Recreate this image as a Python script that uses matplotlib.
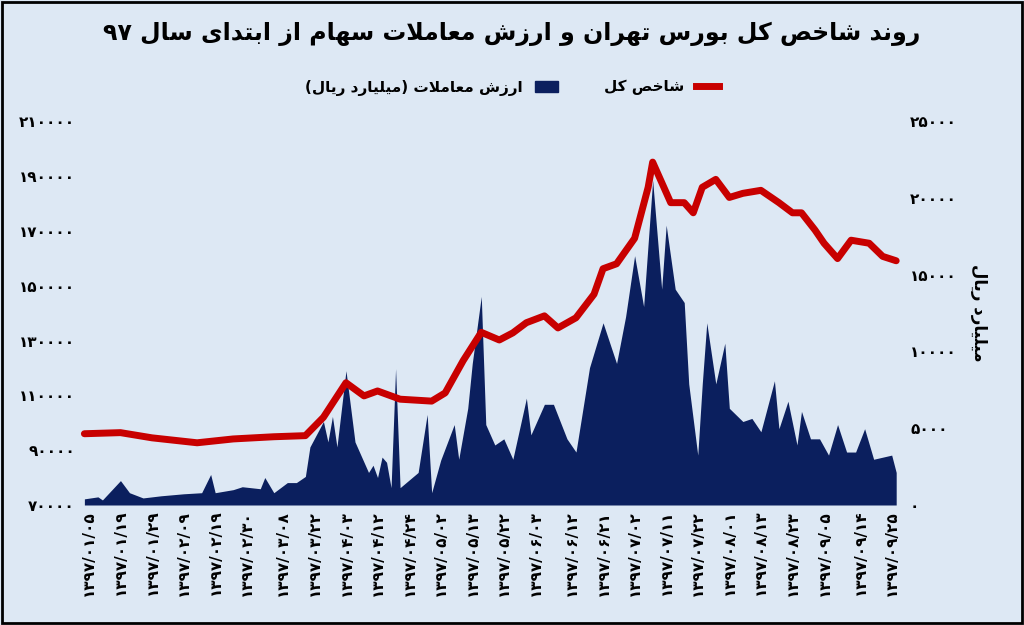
import re
import numpy as np
from matplotlib import pyplot as plt
from matplotlib.patches import Patch
from matplotlib.lines import Line2D

# ---- minimal Persian shaping (presentation forms + visual order) ----
FORMS = {
    'ا': (0xFE8D, 0xFE8E), 'د': (0xFEA9, 0xFEAA), 'ر': (0xFEAD, 0xFEAE),
    'ز': (0xFEAF, 0xFEB0), 'و': (0xFEED, 0xFEEE),
    'ب': (0xFE8F, 0xFE90, 0xFE91, 0xFE92), 'ت': (0xFE95, 0xFE96, 0xFE97, 0xFE98),
    'خ': (0xFEA5, 0xFEA6, 0xFEA7, 0xFEA8), 'س': (0xFEB1, 0xFEB2, 0xFEB3, 0xFEB4),
    'ش': (0xFEB5, 0xFEB6, 0xFEB7, 0xFEB8), 'ص': (0xFEB9, 0xFEBA, 0xFEBB, 0xFEBC),
    'ع': (0xFEC9, 0xFECA, 0xFECB, 0xFECC), 'ل': (0xFEDD, 0xFEDE, 0xFEDF, 0xFEE0),
    'م': (0xFEE1, 0xFEE2, 0xFEE3, 0xFEE4), 'ن': (0xFEE5, 0xFEE6, 0xFEE7, 0xFEE8),
    'ه': (0xFEE9, 0xFEEA, 0xFEEB, 0xFEEC), 'ی': (0xFEEF, 0xFEF0, 0xFEF3, 0xFEF4),
    'ک': (0xFED9, 0xFEDA, 0xFEDB, 0xFEDC),
}


def fa(text):
    chars = list(text)
    out = []
    i = 0
    while i < len(chars):
        c = chars[i]
        if c not in FORMS:
            out.append(c)
            i += 1
            continue
        prev = chars[i - 1] if i > 0 else ''
        joins_prev = prev in FORMS and len(FORMS[prev]) == 4
        if c == 'ل' and i + 1 < len(chars) and chars[i + 1] == 'ا':
            out.append(chr(0xFEFC if joins_prev else 0xFEFB))
            i += 2
            continue
        nxt = chars[i + 1] if i + 1 < len(chars) else ''
        f = FORMS[c]
        joins_next = len(f) == 4 and nxt in FORMS
        if joins_prev and joins_next:
            out.append(chr(f[3]))
        elif joins_prev:
            out.append(chr(f[1]))
        elif joins_next:
            out.append(chr(f[2]))
        else:
            out.append(chr(f[0]))
        i += 1
    s = ''.join(out)[::-1]
    s = re.sub(r'[۰-۹0-9/]+', lambda m: m.group(0)[::-1], s)
    return s.translate(str.maketrans('()', ')('))


def pdig(n):
    return str(n).translate(str.maketrans('0123456789', '۰۱۲۳۴۵۶۷۸۹'))


# ---- data ----
title = 'روند شاخص کل بورس تهران و ارزش معاملات سهام از ابتدای سال ۹۷'
lbl_index = 'شاخص کل'
lbl_value = 'ارزش معاملات (میلیارد ریال)'
right_label = 'میلیارد ریال'

index_day = [0, 8, 15, 25, 33, 42, 49, 53, 58, 62, 65, 70, 77, 80, 84, 88, 92, 95, 98,
             102, 105, 109, 113, 115, 118, 122, 125, 126, 128, 130, 133, 135, 137, 140,
             143, 146, 150, 154, 157, 159, 162, 164, 167, 170, 174, 177, 180]
index_val = [96000, 96400, 94500, 92700, 94100, 94900, 95300, 102000, 114600, 109800,
             111600, 108600, 107900, 110900, 122700, 133000, 130200, 132800, 136500,
             139000, 134600, 138300, 146900, 156200, 158000, 167300, 185900, 195100,
             187700, 180300, 180300, 176600, 185900, 188800, 182200, 183700, 184800,
             180300, 176600, 176600, 170300, 165500, 159900, 166600, 165500, 160700, 159100]

value_day = [0, 3, 4, 8, 10, 13, 17, 22, 26, 28, 29, 33, 35, 39, 40, 42, 45, 47, 49, 50,
             53, 54, 55, 56, 58, 60, 63, 64, 65, 66, 67, 68, 69, 70, 74, 76, 77, 79, 82,
             83, 85, 86, 88, 89, 91, 93, 95, 98, 99, 102, 104, 107, 109, 112, 115, 118,
             120, 122, 124, 126, 128, 129, 131, 133, 134, 136, 137, 138, 140, 142, 143,
             146, 148, 150, 153, 154, 156, 158, 159, 161, 163, 165, 167, 169, 171, 173,
             175, 179, 180]
value_val = [400, 530, 330, 1590, 800, 460, 600, 730, 800, 1990, 800, 1000, 1190, 1060,
             1790, 800, 1460, 1460, 1860, 3780, 5440, 4110, 5770, 3780, 8750, 4110, 2120,
             2590, 1790, 3120, 2780, 1130, 8880, 1130, 2120, 5900, 800, 2920, 5240, 2980,
             6300, 9220, 13590, 5240, 3910, 4310, 2980, 6960, 4570, 6560, 6560, 4310, 3450,
             8950, 11870, 9220, 12270, 16240, 12930, 21150, 14060, 18230, 14060, 13190,
             7890, 3250, 7890, 11870, 7890, 10540, 6300, 5440, 5640, 4770, 8090, 4970,
             6760, 3910, 6100, 4310, 4310, 3250, 5240, 3450, 3450, 4970, 2980, 3250, 2120]

tick_day = [1, 8, 15, 22, 29, 36, 44, 51, 58, 65, 72, 79, 86, 93, 100, 108, 115, 122,
            129, 136, 143, 150, 157, 164, 172, 179]
tick_lbl = ['01/05', '01/19', '01/29', '02/09', '02/19', '02/30', '03/08', '03/22',
            '04/03', '04/12', '04/24', '05/02', '05/13', '05/22', '06/03', '06/12',
            '06/21', '07/02', '07/11', '07/22', '08/01', '08/13', '08/23', '09/05',
            '09/14', '09/25']

plt.rcParams['font.family'] = ['DejaVu Sans']
bg = '#dde8f4'
navy = '#0b1f5e'
red = '#c80000'

fig = plt.figure(figsize=(10.24, 6.25), dpi=100, facecolor=bg)
fig.patches.append(plt.Rectangle((0.002, 0.003), 0.996, 0.994, transform=fig.transFigure,
                                 fill=False, edgecolor='black', linewidth=2))
ax1 = fig.add_axes([0.078, 0.192, 0.806, 0.614])
ax1.set_facecolor(bg)
ax2 = ax1.twinx()

ax2.fill_between(value_day, value_val, 0, color=navy, linewidth=0, zorder=1)
ax2.set_ylim(0, 25000)
ax2.set_yticks(range(0, 25001, 5000))
ax2.set_yticklabels([pdig(v) for v in range(0, 25001, 5000)], fontsize=11, fontweight='bold')
ax2.set_ylabel(fa(right_label), rotation=-90, labelpad=22, fontsize=12, fontweight='bold')

ax1.set_zorder(ax2.get_zorder() + 1)
ax1.patch.set_visible(False)
ax2.set_facecolor(bg)
ax1.plot(index_day, index_val, color=red, linewidth=5, solid_capstyle='round', zorder=3)
ax1.set_ylim(70000, 210000)
ax1.set_yticks(range(70000, 210001, 20000))
ax1.set_yticklabels([pdig(v) for v in range(70000, 210001, 20000)], fontsize=11, fontweight='bold')
ax1.set_xlim(-1, 182)
ax1.set_xticks(tick_day)
ax1.set_xticklabels([pdig('1397/' + t) for t in tick_lbl], rotation=90, fontsize=11,
                    fontweight='bold')

for a in (ax1, ax2):
    for s in a.spines.values():
        s.set_visible(False)
    a.tick_params(length=0)

fig.text(0.5, 0.945, fa(title), ha='center', va='center', fontsize=17, fontweight='bold')
handles = [Patch(color=navy), Line2D([], [], color=red, linewidth=5)]
fig.legend(handles, [fa(lbl_value), fa(lbl_index)], loc='center', bbox_to_anchor=(0.5, 0.86),
           ncol=2, frameon=False, markerfirst=False, prop={'weight': 'bold', 'size': 11},
           columnspacing=3, handlelength=1.5)

fig.savefig('out.png', dpi=100, facecolor=bg)
